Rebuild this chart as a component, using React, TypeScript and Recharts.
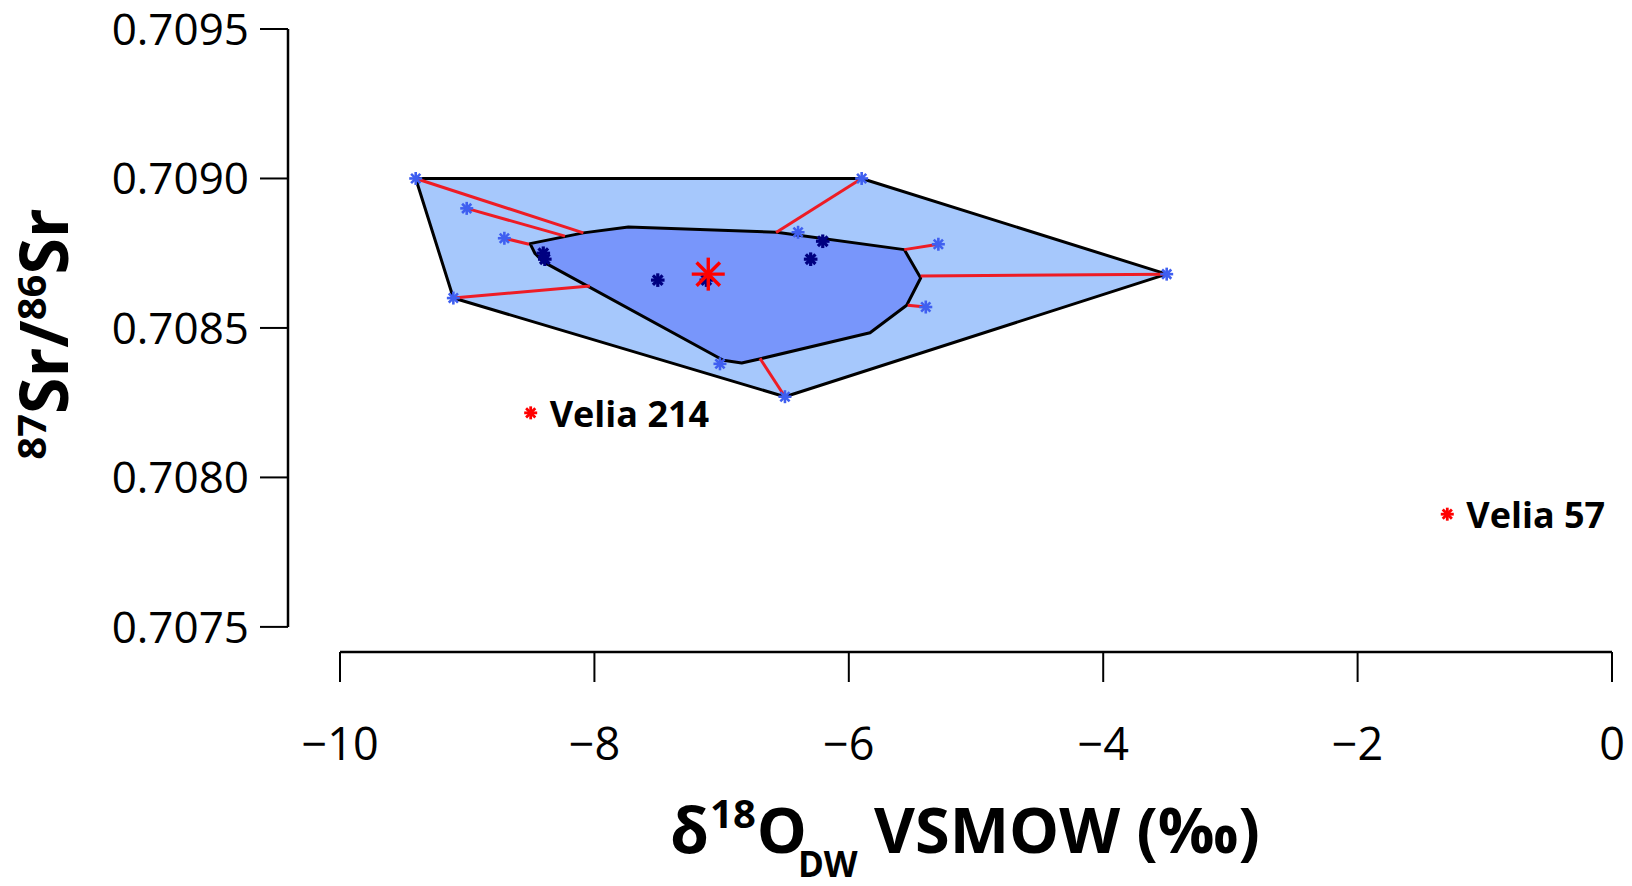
import React from 'react';
import { ScatterChart, Scatter, XAxis, YAxis, ReferenceLine } from 'recharts';

// ---- axis ticks ----
const xTicks = [-10, -8, -6, -4, -2, 0];
const yTicks = [0.7075, 0.708, 0.7085, 0.709, 0.7095];

// ---- samples (blue asterisks, outer group) ----
const outerSamples = [
  { x: -9.405, y: 0.70900 },
  { x: -9.004, y: 0.70890 },
  { x: -8.708, y: 0.70880 },
  { x: -9.109, y: 0.70860 },
  { x: -6.502, y: 0.70827 },
  { x: -7.013, y: 0.70838 },
  { x: -5.899, y: 0.70900 },
  { x: -6.399, y: 0.70882 },
  { x: -5.296, y: 0.70878 },
  { x: -3.501, y: 0.70868 },
  { x: -5.395, y: 0.70857 },
];

// ---- nearest points on the inner hull (spoke ends), same order as outerSamples ----
const spokeTargets = [
  { x: -8.087, y: 0.708818 },
  { x: -8.231, y: 0.708807 },
  { x: -8.514, y: 0.70878 },
  { x: -8.035, y: 0.70864 },
  { x: -6.698, y: 0.708398 },
  { x: -7.0, y: 0.708392 },
  { x: -6.572, y: 0.708819 },
  { x: -6.399, y: 0.708815 },
  { x: -5.564, y: 0.708762 },
  { x: -5.435, y: 0.708674 },
  { x: -5.537, y: 0.708576 },
];

// ---- core samples (navy asterisks) ----
const innerSamples = [
  { x: -8.402, y: 0.70875 },
  { x: -8.39, y: 0.70873 },
  { x: -7.502, y: 0.70866 },
  { x: -7.12, y: 0.70866 },
  { x: -6.205, y: 0.70879 },
  { x: -6.30, y: 0.70873 },
];

// ---- group mean (big red asterisk) ----
const groupMean = [{ x: -7.105, y: 0.70868 }];

// ---- outliers ----
const outliers = [
  { x: -8.501, y: 0.708216, name: 'Velia 214' },
  { x: -1.295, y: 0.707877, name: 'Velia 57' },
];

// ---- hull polygons ----
const outerHull = [
  { x: -9.405, y: 0.70900 },
  { x: -5.899, y: 0.70900 },
  { x: -3.501, y: 0.70868 },
  { x: -6.502, y: 0.70827 },
  { x: -9.109, y: 0.70860 },
];

const innerHull = [
  { x: -8.506, y: 0.708782 },
  { x: -8.087, y: 0.708818 },
  { x: -7.733, y: 0.708838 },
  { x: -6.567, y: 0.70882 },
  { x: -5.564, y: 0.708762 },
  { x: -5.435, y: 0.708667 },
  { x: -5.545, y: 0.708576 },
  { x: -5.833, y: 0.708484 },
  { x: -6.685, y: 0.708398 },
  { x: -6.842, y: 0.708383 },
  { x: -6.987, y: 0.708392 },
  { x: -8.402, y: 0.708721 },
  { x: -8.467, y: 0.708749 },
];

const X_DOMAIN: [number, number] = [-10.409, 0];
const Y_DOMAIN: [number, number] = [0.707416, 0.7095];

const FONT = "'Open Sans', 'DejaVu Sans', sans-serif";

const Empty = () => <g />;

const asterisk = (r: number, color: string, w: number) => (props: any) => {
  const { cx, cy } = props;
  if (cx == null || cy == null) return <g />;
  const d = r * Math.SQRT1_2;
  return (
    <g stroke={color} strokeWidth={w} fill="none">
      <line x1={cx - r} y1={cy} x2={cx + r} y2={cy} />
      <line x1={cx} y1={cy - r} x2={cx} y2={cy + r} />
      <line x1={cx - d} y1={cy - d} x2={cx + d} y2={cy + d} />
      <line x1={cx - d} y1={cy + d} x2={cx + d} y2={cy - d} />
    </g>
  );
};

const outlierShape = (props: any) => {
  const { cx, cy, payload } = props;
  if (cx == null || cy == null) return <g />;
  return (
    <g>
      {asterisk(6.5, '#ff0000', 2.8)({ cx, cy })}
      <text
        x={cx + 19}
        y={cy + 14}
        fontFamily={FONT}
        fontWeight={700}
        fontSize={36}
        fill="#000"
      >
        {payload.name}
      </text>
    </g>
  );
};

const hullLine = (fill: string) => (p: any) => {
  const pts = (p.points || []).map((q: any) => `${q.x},${q.y}`).join(' ');
  return (
    <polygon
      points={pts}
      fill={fill}
      stroke="#000"
      strokeWidth={3}
      strokeLinejoin="round"
    />
  );
};

const fmtX = (v: number) => (v < 0 ? '\u2212' + Math.abs(v) : String(v));
const fmtY = (v: number) => v.toFixed(4);

const XTitle = () => (
  <text
    x={670}
    y={853}
    textAnchor="start"
    fontFamily={FONT}
    fontWeight={700}
    fontSize={63}
    fill="#000"
  >
    δ
    <tspan fontSize={40} dy={-25} dx={1}>18</tspan>
    <tspan dy={25} dx={1}>O</tspan>
    <tspan fontSize={35} dy={24} dx={-9}>DW</tspan>
    <tspan dy={-24}> VSMOW (‰)</tspan>
  </text>
);

const YTitle = () => (
  <text
    transform="rotate(-90)"
    x={-334}
    y={68}
    textAnchor="middle"
    fontFamily={FONT}
    fontWeight={700}
    fontSize={66}
    fill="#000"
  >
    <tspan fontSize={40} dy={-22}>87</tspan>
    <tspan dy={22}>Sr/</tspan>
    <tspan fontSize={40} dy={-22}>86</tspan>
    <tspan dy={22}>Sr</tspan>
  </text>
);

export default function App() {
  return (
    <div style={{ position: 'absolute', left: 0, top: 0, width: 1632, height: 886, background: '#fff' }}>
      <ScatterChart
        width={1632}
        height={886}
        margin={{ top: 29, right: 20, bottom: 0, left: 0 }}
        style={{ overflow: 'visible' }}
      >
        <XAxis
          type="number"
          dataKey="x"
          domain={X_DOMAIN}
          allowDataOverflow
          ticks={xTicks}
          tickFormatter={fmtX}
          axisLine={false}
          tickLine={{ stroke: '#000', strokeWidth: 2 }}
          tickSize={30}
          tickMargin={46}
          height={234}
          tick={{ fontSize: 45, fill: '#000', fontFamily: FONT }}
          interval={0}
          label={{ content: () => <XTitle /> }}
        />
        <YAxis
          type="number"
          dataKey="y"
          domain={Y_DOMAIN}
          allowDataOverflow
          ticks={yTicks}
          tickFormatter={fmtY}
          axisLine={false}
          tickLine={{ stroke: '#000', strokeWidth: 2 }}
          tickSize={28}
          tickMargin={11}
          width={288}
          tick={{ fontSize: 44, fill: '#000', fontFamily: FONT }}
          interval={0}
          label={{ content: () => <YTitle /> }}
        />
        <ReferenceLine
          segment={[{ x: X_DOMAIN[0], y: yTicks[0] }, { x: X_DOMAIN[0], y: yTicks[yTicks.length - 1] }]}
          stroke="#000"
          strokeWidth={2.5}
          ifOverflow="visible"
        />
        <ReferenceLine
          segment={[{ x: xTicks[0], y: Y_DOMAIN[0] }, { x: xTicks[xTicks.length - 1], y: Y_DOMAIN[0] }]}
          stroke="#000"
          strokeWidth={2.5}
          ifOverflow="visible"
        />
        <Scatter
          data={outerHull}
          line={hullLine('#a6c8fc')}
          shape={Empty}
          isAnimationActive={false}
        />
        <Scatter
          data={innerHull}
          line={hullLine('#7896fb')}
          shape={Empty}
          isAnimationActive={false}
        />
        {outerSamples.map((s, i) => (
          <Scatter
            key={'spoke' + i}
            data={[s, spokeTargets[i]]}
            line={{ stroke: '#ee1c25', strokeWidth: 3 }}
            shape={Empty}
            isAnimationActive={false}
          />
        ))}
        <Scatter data={outerSamples} shape={asterisk(6.5, '#3f5ff0', 2.6)} isAnimationActive={false} />
        <Scatter data={innerSamples} shape={asterisk(6.8, '#000080', 3.2)} isAnimationActive={false} />
        <Scatter data={groupMean} shape={asterisk(16.5, '#ff0000', 3.4)} isAnimationActive={false} />
        <Scatter data={outliers} shape={outlierShape} isAnimationActive={false} />
      </ScatterChart>
    </div>
  );
}
